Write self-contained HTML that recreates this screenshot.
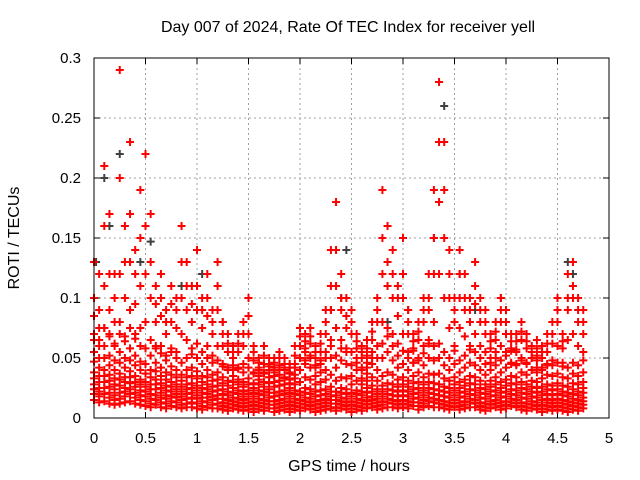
<!DOCTYPE html>
<html><head><meta charset="utf-8"><style>
body{margin:0;background:#fff}
svg{display:block;font-family:"Liberation Sans",sans-serif}
</style></head><body>
<svg id="chart" width="640" height="480">
<text x="348" y="32" text-anchor="middle" font-size="16">Day 007 of 2024, Rate Of TEC Index for receiver yell</text>
<text x="349" y="471" text-anchor="middle" font-size="16">GPS time / hours</text>
<text transform="translate(19,238) rotate(-90)" text-anchor="middle" font-size="16">ROTI / TECUs</text>
<g id="grid"></g><g id="ticks"></g><g id="marks"></g>
<rect x="94" y="58" width="515" height="360" fill="none" stroke="#000" stroke-width="1"/>
</svg>
<script>
const times=[0,.05,.1,.15,.2,.25,.3,.35,.4,.45,.5,.55,.6,.65,.7,.75,.8,.85,.9,.95,1,1.05,1.1,1.15,1.2,1.25,1.3,1.35,1.4,1.45,1.5,1.55,1.6,1.65,1.7,1.75,1.8,1.85,1.9,1.95,2,2.05,2.1,2.15,2.2,2.25,2.3,2.35,2.4,2.45,2.5,2.55,2.6,2.65,2.7,2.75,2.8,2.85,2.9,2.95,3,3.05,3.1,3.15,3.2,3.25,3.3,3.35,3.4,3.45,3.5,3.55,3.6,3.65,3.7,3.75,3.8,3.85,3.9,3.95,4,4.05,4.1,4.15,4.2,4.25,4.3,4.35,4.4,4.45,4.5,4.55,4.6,4.65,4.7,4.75];
const s1=[.02,.018,.02,.017,.015,.016,.018,.02,.017,.015,.014,.012,.015,.013,.012,.014,.013,.011,.012,.013,.012,.01,.013,.011,.012,.01,.009,.011,.01,.009,.01,.008,.01,.009,.011,.008,.009,.01,.008,.01,.009,.011,.01,.008,.009,.01,.012,.009,.011,.01,.008,.01,.009,.011,.012,.01,.011,.013,.012,.011,.012,.011,.013,.01,.012,.014,.013,.012,.011,.01,.012,.01,.011,.013,.012,.01,.009,.011,.012,.01,.011,.013,.012,.01,.009,.011,.01,.008,.01,.009,.01,.009,.008,.01,.009,.011];
const s2=[.028,.025,.03,.026,.024,.027,.025,.029,.026,.023,.022,.02,.024,.021,.019,.022,.02,.018,.02,.021,.019,.017,.02,.018,.019,.016,.015,.017,.016,.015,.016,.014,.016,.015,.017,.014,.015,.016,.014,.016,.015,.017,.016,.014,.015,.016,.018,.015,.017,.016,.014,.016,.015,.017,.018,.016,.018,.02,.019,.018,.019,.018,.02,.017,.019,.021,.02,.019,.018,.017,.019,.017,.018,.02,.019,.017,.016,.018,.019,.017,.018,.02,.019,.017,.016,.018,.017,.015,.016,.015,.016,.015,.014,.016,.015,.017];
const s3=[.038,.035,.04,.036,.033,.037,.034,.039,.035,.032,.03,.028,.032,.029,.027,.03,.028,.026,.028,.029,.027,.025,.028,.026,.027,.024,.022,.025,.023,.022,.023,.021,.023,.022,.024,.021,.022,.023,.021,.023,.022,.025,.024,.022,.023,.024,.026,.022,.025,.024,.021,.023,.022,.025,.027,.024,.027,.029,.028,.026,.028,.026,.029,.025,.028,.03,.029,.028,.026,.025,.028,.025,.027,.029,.028,.025,.024,.026,.028,.025,.027,.029,.028,.025,.024,.026,.025,.022,.024,.023,.024,.022,.021,.024,.022,.025];
const s4=[.055,.05,.06,.052,.048,.055,.05,.058,.052,.047,.045,.04,.046,.042,.038,.043,.04,.036,.04,.042,.039,.035,.04,.036,.038,.034,.031,.035,.032,.03,.033,.029,.032,.03,.034,.03,.031,.033,.029,.033,.04,.045,.042,.035,.038,.04,.05,.042,.048,.045,.035,.04,.033,.037,.045,.04,.05,.055,.048,.042,.045,.04,.046,.038,.044,.05,.048,.05,.044,.04,.045,.038,.042,.046,.044,.04,.036,.04,.044,.038,.042,.045,.044,.038,.036,.04,.038,.033,.036,.035,.037,.034,.033,.037,.035,.038];
const s5=[.085,.075,.11,.09,.08,.12,.1,.13,.095,.11,.12,.1,.08,.085,.07,.08,.075,.1,.09,.08,.09,.075,.085,.07,.09,.06,.055,.05,.055,.06,.07,.048,.042,.045,.04,.042,.044,.04,.038,.045,.06,.058,.062,.05,.055,.07,.09,.11,.09,.075,.07,.058,.05,.052,.065,.08,.12,.11,.1,.085,.1,.07,.058,.065,.08,.09,.12,.18,.15,.1,.08,.1,.09,.08,.095,.08,.07,.058,.065,.08,.07,.058,.057,.065,.058,.05,.052,.05,.055,.062,.08,.058,.09,.1,.08,.07];
const s6=[.13,.12,.21,.17,.12,.29,.16,.23,.14,.19,.22,.17,.11,.12,.09,.11,.1,.16,.13,.11,.14,.1,.12,.09,.13,.08,.07,.06,.07,.08,.1,.06,.05,.06,.05,.05,.055,.05,.045,.06,.075,.07,.075,.06,.07,.09,.14,.18,.12,.1,.09,.07,.06,.065,.08,.1,.19,.16,.14,.11,.15,.09,.07,.08,.1,.12,.19,.28,.23,.14,.1,.14,.12,.1,.13,.1,.09,.07,.08,.1,.09,.07,.07,.08,.07,.06,.065,.06,.07,.08,.1,.07,.12,.13,.1,.09];
const s7=[.065,.06,.075,.07,.062,.08,.068,.09,.07,.075,.08,.065,.058,.06,.052,.058,.055,.07,.065,.058,.062,.055,.06,.052,.06,.045,.042,.04,.042,.045,.05,.038,.035,.037,.034,.035,.036,.034,.032,.036,.05,.048,.05,.042,.045,.055,.065,.075,.065,.058,.055,.046,.04,.042,.05,.06,.08,.075,.07,.062,.07,.055,.046,.05,.06,.065,.08,.12,.1,.075,.06,.075,.068,.06,.07,.06,.055,.046,.05,.06,.055,.046,.045,.05,.046,.04,.042,.04,.044,.048,.06,.046,.065,.07,.06,.055];
const s8=[.015,.013,.014,.012,.011,.012,.013,.014,.012,.011,.01,.009,.011,.009,.008,.01,.009,.008,.009,.009,.008,.007,.009,.008,.008,.007,.006,.008,.007,.006,.007,.005,.007,.006,.008,.005,.006,.007,.005,.007,.006,.008,.007,.005,.006,.007,.008,.006,.008,.007,.005,.007,.006,.008,.009,.007,.008,.009,.009,.008,.009,.008,.01,.007,.009,.01,.009,.009,.008,.007,.009,.007,.008,.009,.009,.007,.006,.008,.009,.007,.008,.01,.009,.007,.006,.008,.007,.005,.007,.006,.007,.006,.005,.007,.006,.008];
const s9=[.024,.022,.025,.021,.019,.021,.022,.024,.021,.019,.018,.016,.019,.017,.016,.018,.017,.015,.016,.017,.016,.014,.017,.015,.016,.013,.012,.014,.013,.012,.013,.011,.013,.012,.014,.011,.012,.013,.011,.013,.012,.014,.013,.011,.012,.013,.015,.012,.014,.013,.011,.013,.012,.014,.015,.013,.014,.016,.015,.014,.015,.014,.016,.013,.015,.017,.016,.015,.014,.013,.015,.013,.014,.016,.015,.013,.012,.014,.015,.013,.014,.016,.015,.013,.012,.014,.013,.011,.013,.012,.013,.012,.011,.013,.012,.014];
const s10=[.033,.03,.035,.031,.028,.032,.03,.034,.03,.028,.026,.024,.028,.025,.023,.026,.024,.022,.024,.025,.023,.021,.024,.022,.023,.02,.019,.021,.02,.018,.02,.018,.02,.019,.021,.018,.019,.02,.018,.02,.019,.021,.02,.018,.019,.02,.022,.019,.021,.02,.018,.02,.019,.021,.022,.02,.022,.024,.023,.022,.023,.022,.024,.021,.023,.025,.024,.023,.022,.021,.023,.021,.022,.024,.023,.021,.02,.022,.023,.021,.022,.024,.023,.021,.02,.022,.021,.019,.02,.019,.02,.019,.018,.02,.019,.021];
const s11=[.07,.065,.075,.068,.06,.07,.064,.075,.066,.06,.058,.052,.06,.054,.048,.055,.05,.046,.05,.053,.05,.045,.05,.046,.048,.043,.04,.044,.041,.038,.042,.037,.04,.038,.043,.038,.04,.042,.037,.042,.05,.055,.052,.044,.048,.05,.06,.052,.058,.055,.044,.05,.042,.046,.055,.05,.062,.068,.06,.052,.056,.05,.056,.048,.054,.062,.06,.062,.055,.05,.056,.048,.052,.057,.055,.05,.045,.05,.055,.048,.052,.056,.055,.048,.045,.05,.048,.042,.045,.044,.046,.043,.042,.046,.044,.048];
const s12=[.047,.042,.05,.044,.04,.046,.042,.048,.044,.04,.037,.034,.039,.035,.032,.036,.034,.031,.034,.035,.033,.03,.034,.031,.032,.029,.027,.03,.028,.026,.028,.025,.028,.026,.029,.026,.027,.028,.025,.028,.03,.034,.032,.028,.03,.032,.036,.031,.034,.033,.028,.031,.028,.031,.034,.031,.035,.038,.036,.032,.034,.031,.035,.03,.034,.037,.036,.037,.033,.031,.034,.03,.032,.035,.034,.031,.028,.031,.034,.03,.032,.035,.034,.03,.028,.031,.03,.026,.028,.027,.029,.027,.026,.029,.028,.03];
const s13=[.1,.09,.16,.12,.1,.2,.13,.17,.12,.15,.16,.13,.095,.1,.08,.095,.09,.13,.11,.095,.11,.09,.1,.08,.11,.07,.062,.055,.062,.07,.085,.055,.046,.052,.045,.046,.05,.045,.042,.052,.068,.064,.068,.055,.062,.08,.11,.14,.1,.085,.08,.064,.055,.058,.072,.09,.15,.13,.12,.1,.12,.08,.064,.072,.09,.1,.15,.23,.19,.12,.09,.12,.1,.09,.11,.09,.08,.064,.072,.09,.08,.064,.064,.072,.064,.055,.058,.055,.062,.07,.09,.064,.1,.11,.09,.08];
const darkT=[.02,.1,.15,.25,.45,.55,.85,1.05,1.25,2.3,2.4,2.45,2.85,3.05,3.3,3.4,3.55,3.7,3.95,4.6,4.65];
const darkV=[.13,.2,.16,.22,.13,.147,.11,.12,.08,.09,.1,.14,.08,.09,.15,.26,.12,.09,.1,.13,.12];
const xTicks=[0,0.5,1,1.5,2,2.5,3,3.5,4,4.5,5];
const xLabels=["0","0.5","1","1.5","2","2.5","3","3.5","4","4.5","5"];
const yTicks=[0,0.05,0.1,0.15,0.2,0.25,0.3];
const yLabels=["0","0.05","0.1","0.15","0.2","0.25","0.3"];

const X=v=>94+v*103, Y=v=>418-v*1200;
const NS="http://www.w3.org/2000/svg";
const grid=document.getElementById('grid'),ticks=document.getElementById('ticks'),marks=document.getElementById('marks');
function mk(tag,attrs,parent){const e=document.createElementNS(NS,tag);for(const k in attrs)e.setAttribute(k,attrs[k]);parent.appendChild(e);return e;}
xTicks.forEach((t,i)=>{
  const x=X(t);
  if(i>0&&i<xTicks.length-1){const g=mk('line',{x1:x,x2:x,y1:58,y2:418,stroke:'#a0a0a0','stroke-dasharray':'2,3'},grid);
  
  }
  mk('line',{x1:x,x2:x,y1:418,y2:412,stroke:'#000'},ticks);mk('line',{x1:x,x2:x,y1:58,y2:64,stroke:'#000'},ticks);
  const l=mk('text',{x:x,y:443,'text-anchor':'middle','font-size':'15'},ticks);l.textContent=xLabels[i];
  
  
});
yTicks.forEach((t,i)=>{
  const y=Y(t);
  if(i>0&&i<yTicks.length-1){const g=mk('line',{x1:94,x2:609,y1:y,y2:y,stroke:'#a0a0a0','stroke-dasharray':'2,3'},grid);
  
  }
  mk('line',{x1:94,x2:100,y1:y,y2:y,stroke:'#000'},ticks);mk('line',{x1:609,x2:603,y1:y,y2:y,stroke:'#000'},ticks);
  const l=mk('text',{x:81,y:y+5,'text-anchor':'end','font-size':'15'},ticks);l.textContent=yLabels[i];
  
  
});
function plus(tArr,vArr,color,name){
  let d='';
  for(let i=0;i<tArr.length;i++){const x=X(tArr[i]),y=Y(vArr[i]);d+=`M${x-4},${y}h8M${x},${y-4}v8`;}
  const p=mk('path',{d:d,stroke:color,'stroke-width':'2',fill:'none'},marks);
  
  
}
plus(darkT,darkV,'#404040','dark-series-points');
[s8,s1,s9,s2,s10,s3,s12,s4,s11,s7,s5,s13,s6].forEach((s,i)=>plus(times,s,'#ff0000','red-series-points-'+(i+1)));
</script>
</body></html>
